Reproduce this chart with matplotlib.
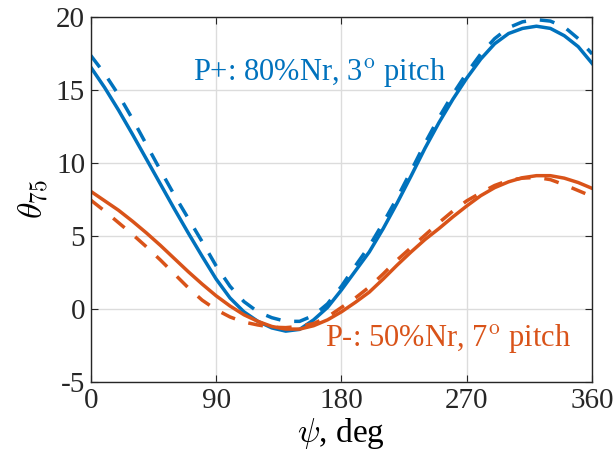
import matplotlib
matplotlib.use("Agg")
import matplotlib.pyplot as plt
import numpy as np

# azimuth, deg
psi = np.arange(0, 361, 10)

# P+ case (blue), solid / dashed
p_plus_solid = [16.55, 15.15, 13.6, 11.95, 10.25, 8.55, 6.85, 5.2, 3.6, 2.05,
                0.75, -0.2, -0.85, -1.3, -1.52, -1.4, -0.75, 0.1, 1.3, 2.6,
                3.9, 5.5, 7.25, 9.1, 11.0, 12.75, 14.35, 15.8, 17.1, 18.15,
                18.85, 19.2, 19.35, 19.2, 18.7, 17.95, 16.8]
p_plus_dash = [17.35, 16.1, 14.65, 13.0, 11.25, 9.5, 7.8, 6.2, 4.6, 2.95,
               1.55, 0.5, -0.2, -0.6, -0.85, -0.85, -0.45, 0.35, 1.55, 2.95,
               4.3, 5.9, 7.6, 9.45, 11.35, 13.1, 14.7, 16.15, 17.45, 18.5,
               19.25, 19.65, 19.8, 19.7, 19.3, 18.5, 17.45]

# P- case (orange), solid / dashed
p_minus_solid = [8.05, 7.4, 6.75, 6.0, 5.2, 4.35, 3.45, 2.55, 1.7, 0.9,
                 0.2, -0.4, -0.85, -1.2, -1.38, -1.38, -1.15, -0.75, -0.2, 0.45,
                 1.15, 2.05, 3.0, 3.9, 4.75, 5.5, 6.3, 7.05, 7.75, 8.3,
                 8.7, 8.98, 9.12, 9.12, 8.95, 8.65, 8.25]
p_minus_dash = [7.45, 6.7, 5.9, 5.1, 4.25, 3.35, 2.4, 1.45, 0.6, -0.05,
                -0.55, -0.9, -1.1, -1.25, -1.28, -1.2, -1.0, -0.55, 0.1, 0.75,
                1.5, 2.4, 3.35, 4.2, 5.05, 5.9, 6.7, 7.4, 7.95, 8.45,
                8.8, 8.95, 9.0, 8.85, 8.5, 8.1, 7.7]

x_ticks = [0, 90, 180, 270, 360]
y_ticks = [-5, 0, 5, 10, 15, 20]

blue = '#0072BD'
orange = '#D95319'

plt.rcParams['font.family'] = ['Liberation Serif', 'DejaVu Serif']
plt.rcParams['mathtext.fontset'] = 'cm'
plt.rcParams['axes.unicode_minus'] = False

fig = plt.figure(figsize=(6.13, 4.58), dpi=100)
ax = fig.add_axes([0.148, 0.166, 0.818, 0.7975])

ax.plot(psi, p_plus_solid, color=blue, lw=2.5)
ax.plot(psi, p_plus_dash, color=blue, lw=2.5, linestyle=(0, (4.3, 4.0)))
ax.plot(psi, p_minus_solid, color=orange, lw=2.5)
ax.plot(psi, p_minus_dash, color=orange, lw=2.5, linestyle=(0, (4.3, 4.0)))

ax.text(73.5, 15.7, r'P+: 80%Nr, 3$^{\rm o}$ pitch', color=blue, fontsize=22, va='baseline')
ax.text(168.4, -2.56, r'P-: 50%Nr, 7$^{\rm o}$ pitch', color=orange, fontsize=22, va='baseline')

ax.set_xlim(0, 360)
ax.set_ylim(-5, 20)
ax.set_xticks(x_ticks)
ax.set_yticks(y_ticks)
ax.grid(True, color='#dcdcdc', lw=1)
ax.set_axisbelow(True)
ax.tick_params(direction='in', top=True, right=True, labelsize=21, length=5, colors='#262626', pad=4)
for s in ax.spines.values():
    s.set_color('#262626')
    s.set_linewidth(1)

ax.set_xlabel(r'$\psi$, deg', fontsize=24, labelpad=2)
ax.set_ylabel(r'$\theta_{75}$', fontsize=24, labelpad=4)

plt.savefig('out.png', dpi=100)
